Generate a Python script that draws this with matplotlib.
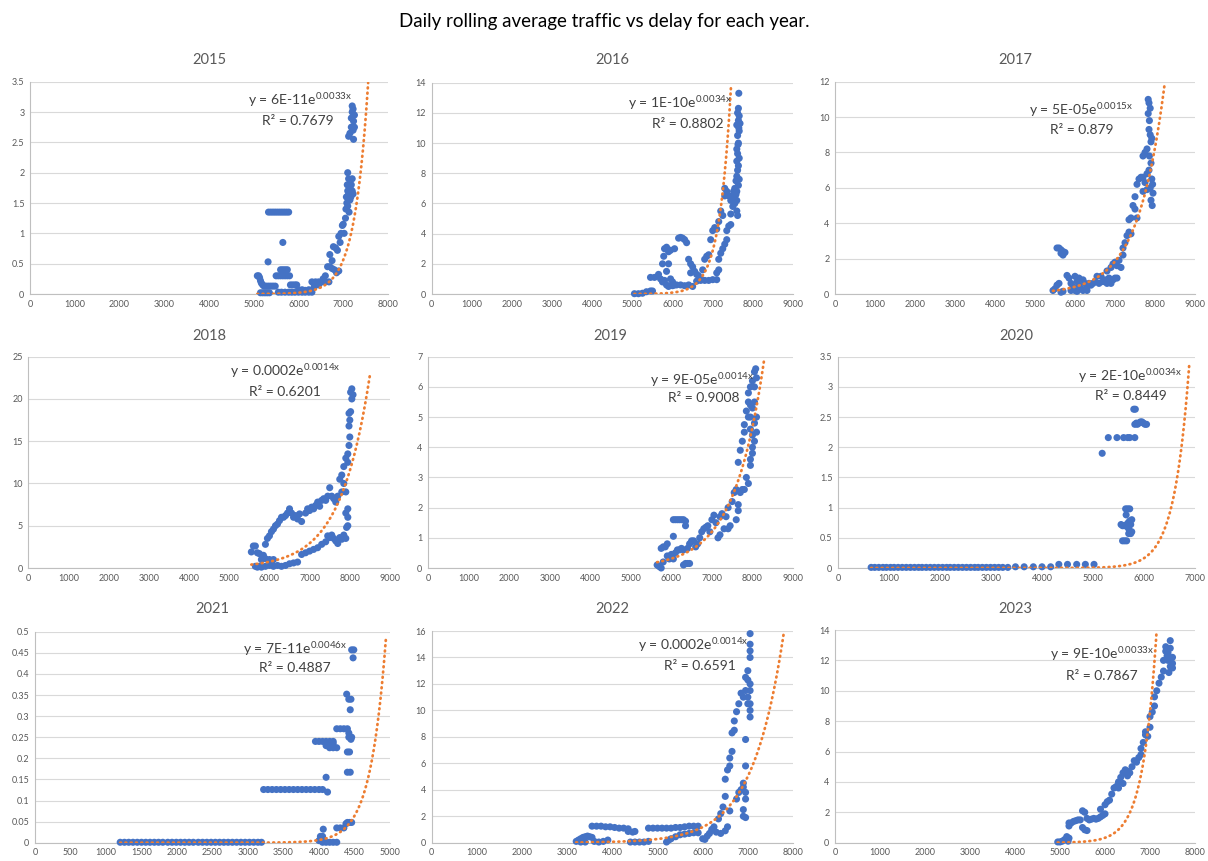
import numpy as np
import matplotlib
matplotlib.use("Agg")
import matplotlib.pyplot as plt
from matplotlib.ticker import FuncFormatter, MultipleLocator

plt.rcParams['font.family'] = ['Lato', 'DejaVu Sans']
plt.rcParams['mathtext.default'] = 'regular'

years = ['2015', '2016', '2017', '2018', '2019', '2020', '2021', '2022', '2023']

# scatter data: x = traffic, y = delay
x15 = [5080, 5110, 5130, 5150, 5170, 5200, 5230, 5150, 5200, 5250, 5300, 5350,
       5280, 5330, 5380, 5430, 5480, 5320, 5330, 5380, 5430, 5480, 5530, 5580,
       5630, 5680, 5730, 5780, 5650, 5600, 5650, 5700, 5750, 5500, 5550, 5600,
       5650, 5700, 5750, 5800, 5550, 5620, 5700, 5780, 5850, 5920, 6000, 6080,
       6150, 6230, 6300, 5820, 5870, 5920, 5960, 6000, 6080, 6150, 6230, 6300,
       6380, 6450, 6530, 6600, 6680, 6350, 6450, 6550, 6600, 6650, 6700, 6750,
       6800, 6700, 6750, 6780, 6830, 6870, 6850, 6900, 6900, 6930, 6950, 6980,
       7000, 7020, 7050, 7060, 7080, 7070, 7090, 7100, 7100, 7120, 7130, 7150,
       7150, 7170, 7180, 7200, 7220, 7200, 7100, 7120, 7120, 7150, 7180, 7180,
       7200, 7220, 7230, 7250, 7220, 7250, 7230, 7200]
y15 = [0.30, 0.30, 0.27, 0.22, 0.18, 0.15, 0.13, 0.02, 0.02, 0.02, 0.02, 0.02,
       0.13, 0.13, 0.13, 0.13, 0.13, 0.53, 1.35, 1.35, 1.35, 1.35, 1.35, 1.35,
       1.35, 1.35, 1.35, 1.35, 0.85, 0.40, 0.40, 0.40, 0.40, 0.30, 0.30, 0.30,
       0.30, 0.30, 0.30, 0.30, 0.03, 0.03, 0.03, 0.03, 0.03, 0.03, 0.03, 0.03,
       0.03, 0.03, 0.03, 0.15, 0.15, 0.15, 0.15, 0.07, 0.07, 0.06, 0.07, 0.20,
       0.20, 0.20, 0.20, 0.20, 0.20, 0.12, 0.15, 0.25, 0.30, 0.45, 0.45, 0.42,
       0.40, 0.65, 0.55, 0.78, 0.76, 0.72, 0.35, 0.38, 0.95, 0.85, 1.00, 1.13,
       1.15, 1.00, 1.25, 1.40, 1.50, 1.60, 1.80, 2.00, 1.70, 1.90, 1.35, 1.55,
       1.75, 1.60, 1.80, 1.70, 1.65, 1.90, 1.45, 1.65, 2.60, 2.65, 2.75, 2.90,
       3.10, 3.05, 2.85, 2.95, 2.70, 2.75, 2.55, 3.00]

x16 = [5050, 5150, 5250, 5350, 5450, 5500, 5450, 5550, 5650, 5700, 5750, 5750,
       5780, 5800, 5850, 5900, 5950, 6050, 5900, 5850, 5950, 5800, 5850, 5900,
       6000, 6050, 6150, 6200, 6250, 6300, 6350, 6400, 6450, 6500, 6550, 6600,
       6650, 6700, 6450, 6000, 6100, 6200, 6300, 6400, 6500, 6600, 6700, 6800,
       6900, 7000, 7100, 6750, 6800, 6850, 6900, 6950, 7000, 7050, 7100, 7150,
       7200, 7250, 7300, 7300, 7350, 7400, 7450, 7100, 7150, 7150, 7200, 7250,
       7300, 7350, 7350, 7400, 7450, 7450, 7500, 7550, 7550, 7550, 7600, 7600,
       7620, 7600, 7580, 7600, 7620, 7600, 7620, 7600, 7640, 7620, 7650, 7600,
       7640, 7620, 7640, 7660, 7680, 7660, 7630, 7660, 7640, 7660, 7640, 7580,
       7520, 7500, 7650]
y16 = [0.02, 0.02, 0.05, 0.15, 0.20, 0.20, 1.10, 1.10, 1.30, 1.00, 0.80, 2.00,
       2.50, 3.00, 3.10, 2.80, 2.90, 3.00, 2.00, 1.50, 1.00, 0.90, 0.60, 0.50,
       0.80, 0.60, 3.70, 3.75, 3.70, 3.60, 3.40, 2.30, 2.00, 1.80, 1.50, 1.30,
       1.20, 1.00, 1.40, 0.55, 0.60, 0.60, 0.55, 0.60, 0.50, 0.85, 0.90, 0.90,
       0.90, 0.95, 0.95, 1.60, 2.30, 2.50, 2.60, 3.60, 4.20, 4.40, 4.30, 4.80,
       5.50, 5.20, 7.00, 6.50, 6.80, 6.50, 6.20, 1.40, 1.60, 2.30, 2.70, 3.00,
       3.30, 3.60, 4.20, 4.50, 4.60, 5.30, 5.80, 6.00, 6.50, 7.00, 6.20, 6.80,
       5.20, 5.50, 7.50, 7.80, 8.20, 8.80, 9.30, 9.60, 10.0, 10.5, 11.0, 11.2,
       11.5, 12.0, 12.3, 11.8, 11.3, 10.8, 9.90, 9.00, 8.50, 7.60, 7.20, 6.60,
       6.80, 6.50, 13.3]

x17 = [5450, 5500, 5550, 5600, 5650, 5700, 5550, 5600, 5650, 5650, 5700, 5700,
       5750, 5800, 5850, 5900, 5950, 6000, 6000, 6050, 6100, 6100, 6150, 6200,
       6250, 6300, 6350, 6400, 5900, 6050, 6200, 6300, 6450, 6500, 6550, 6600,
       6650, 6700, 6750, 6800, 6850, 6900, 6950, 7000, 7050, 6800, 6900, 6950,
       7000, 7050, 7100, 7150, 7200, 7200, 7250, 7300, 7350, 7400, 7350, 7400,
       7450, 7500, 7500, 7550, 7550, 7600, 7650, 7700, 7700, 7750, 7800, 7700,
       7750, 7800, 7800, 7830, 7850, 7830, 7860, 7880, 7850, 7880, 7900, 7920,
       7860, 7900, 7920, 7940, 7950, 7930, 7900, 7880, 7850]
y17 = [0.20, 0.30, 0.50, 0.60, 0.10, 0.15, 2.60, 2.60, 2.50, 2.30, 2.20, 2.40,
       2.35, 1.05, 0.90, 0.60, 0.40, 0.20, 1.00, 0.70, 0.90, 0.50, 0.30, 0.80,
       0.60, 0.40, 0.60, 0.50, 0.20, 0.15, 0.20, 0.20, 0.60, 0.70, 1.00, 0.60,
       1.00, 0.70, 0.80, 0.60, 0.90, 0.60, 0.80, 0.90, 0.90, 1.30, 1.50, 1.70,
       1.80, 1.60, 1.90, 1.50, 2.20, 2.60, 2.90, 3.30, 3.50, 3.40, 4.20, 4.30,
       5.00, 5.50, 4.80, 4.30, 6.20, 6.50, 6.60, 6.60, 7.80, 8.00, 8.20, 5.80,
       6.30, 6.80, 5.90, 11.0, 10.8, 10.2, 9.80, 10.5, 9.30, 9.00, 8.60, 8.80,
       7.80, 7.40, 6.50, 6.20, 5.70, 5.00, 5.30, 6.00, 7.00]

x18 = [5550, 5600, 5650, 5700, 5750, 5650, 5700, 5750, 5800, 5900, 6000, 6100,
       6200, 6300, 6400, 6500, 6600, 6700, 6800, 6900, 7000, 7100, 7200, 7300,
       7400, 7450, 7500, 7550, 7600, 7650, 7700, 7750, 7800, 7850, 7900, 5800,
       5850, 5900, 5950, 6000, 6050, 6100, 6150, 6200, 6250, 6300, 6350, 6400,
       6450, 6500, 6550, 6600, 6650, 6700, 6750, 6800, 6900, 6950, 7000, 7050,
       7100, 7150, 7200, 7250, 7300, 7350, 7400, 7450, 7500, 7550, 7600, 7650,
       7700, 5900, 6000, 6100, 6050, 7750, 7800, 7850, 7900, 7900, 7950, 7950,
       7920, 7950, 7900, 7950, 7980, 8000, 7980, 8000, 7980, 8020, 8050, 8020,
       8050, 8080, 7800, 7850, 7950]
y18 = [1.9, 2.6, 2.6, 1.8, 1.7, 0.2, 0.1, 0.2, 0.1, 0.2, 0.3, 0.2,
       0.3, 0.2, 0.3, 0.5, 0.6, 0.7, 1.6, 1.8, 2.0, 2.2, 2.4, 2.8,
       3.1, 3.8, 3.6, 3.9, 3.5, 3.2, 2.9, 3.6, 3.4, 3.9, 3.5, 1.0,
       1.5, 2.8, 3.5, 3.8, 4.3, 4.6, 5.0, 5.2, 5.6, 6.0, 6.0, 6.2,
       6.5, 7.0, 6.5, 6.0, 6.2, 5.8, 6.4, 5.5, 6.5, 7.0, 6.8, 7.2,
       7.0, 7.4, 7.8, 7.3, 8.0, 8.2, 8.0, 8.5, 9.5, 8.5, 8.2, 7.8,
       8.5, 1.1, 1.0, 1.0, 0.6, 10.5, 11.0, 10.0, 9.0, 6.5, 6.0, 5.0,
       4.8, 12.5, 13.0, 13.5, 14.5, 15.5, 16.8, 17.5, 18.3, 18.5, 20.0, 20.8,
       21.2, 20.5, 9.0, 12.0, 7.0]

x19 = [5650, 5700, 5750, 5800, 5750, 5800, 5850, 5900, 5900, 5950, 6000, 6050,
       6050, 6100, 6150, 6200, 6250, 6050, 6100, 6150, 6200, 6250, 6300, 6350,
       6350, 6300, 6350, 6400, 6450, 6300, 6400, 6450, 6500, 6550, 6600, 6650,
       6700, 6750, 6800, 6850, 6900, 6950, 7000, 7050, 7100, 7150, 7200, 7200,
       7250, 7300, 7350, 7400, 7400, 7450, 7500, 7550, 7600, 7600, 7650, 7650,
       7700, 7750, 7800, 7650, 7700, 7750, 7800, 7800, 7850, 7900, 7850, 7900,
       7900, 7950, 7950, 7950, 8000, 8000, 8000, 8000, 7950, 7950, 8050, 8050,
       8050, 8050, 8100, 8080, 8100, 8100, 8050, 7900, 7950, 8000]
y19 = [0.10, 0.05, 0.00, 0.20, 0.65, 0.70, 0.70, 0.80, 0.40, 0.30, 0.45, 1.05,
       0.30, 0.50, 0.60, 0.60, 0.65, 1.60, 1.60, 1.60, 1.60, 1.60, 1.60, 1.55,
       1.40, 0.10, 0.15, 0.15, 0.15, 0.60, 0.65, 0.80, 0.90, 0.90, 0.70, 0.80,
       1.00, 1.20, 1.30, 1.35, 1.40, 1.20, 1.60, 1.75, 1.50, 1.00, 1.10, 1.70,
       1.80, 1.30, 1.70, 2.00, 1.30, 1.40, 2.20, 2.50, 2.60, 1.60, 1.90, 2.10,
       2.50, 2.60, 2.60, 3.50, 3.90, 4.20, 4.50, 4.75, 3.00, 2.80, 5.20, 5.50,
       5.80, 5.00, 6.00, 4.60, 5.30, 6.20, 4.00, 3.80, 3.60, 3.40, 6.50, 6.00,
       5.50, 4.80, 5.00, 6.60, 6.30, 4.50, 4.20, 5.00, 5.40, 4.40]

x20 = [650, 720, 800, 880, 950, 1030, 1100, 1180, 1260, 1340, 1420, 1500,
       1580, 1650, 1730, 1810, 1890, 1970, 2050, 2130, 2200, 2280, 2360, 2440,
       2520, 2600, 2680, 2750, 2830, 2910, 2990, 3070, 3150, 3230, 3330, 3480,
       3650, 3830, 4000, 4170, 4330, 4500, 4680, 4850, 5020, 5180, 5300, 5470,
       5600, 5680, 5720, 5820, 5800, 5830, 5820, 5870, 5900, 5930, 5960, 5990,
       6020, 6050, 5850, 5580, 5620, 5660, 5550, 5580, 5620, 5660, 5690, 5720,
       5760, 5640, 5680, 5720, 5650, 5700, 5720, 5740, 5760, 5700, 5740, 5680]
y20 = [0.01, 0.01, 0.01, 0.01, 0.01, 0.01, 0.01, 0.01, 0.01, 0.01, 0.01, 0.01,
       0.01, 0.01, 0.01, 0.01, 0.01, 0.01, 0.01, 0.01, 0.01, 0.01, 0.01, 0.01,
       0.01, 0.01, 0.01, 0.01, 0.01, 0.01, 0.01, 0.01, 0.01, 0.01, 0.01, 0.02,
       0.02, 0.02, 0.02, 0.02, 0.06, 0.06, 0.06, 0.06, 0.06, 1.90, 2.16, 2.16,
       2.16, 2.16, 2.16, 2.16, 2.63, 2.63, 2.38, 2.38, 2.40, 2.42, 2.42, 2.40,
       2.38, 2.38, 2.40, 0.45, 0.45, 0.45, 0.72, 0.70, 0.70, 0.72, 0.75, 0.78,
       0.80, 0.98, 0.98, 0.98, 0.88, 0.65, 0.60, 0.57, 0.60, 0.57, 0.72, 0.68]

x21 = [1200, 1260, 1320, 1380, 1440, 1500, 1560, 1620, 1680, 1740, 1800, 1870,
       1930, 1990, 2050, 2110, 2170, 2230, 2300, 2360, 2420, 2480, 2540, 2600,
       2660, 2720, 2780, 2840, 2900, 2960, 3020, 3080, 3140, 3190, 3220, 3280,
       3340, 3400, 3460, 3520, 3580, 3640, 3700, 3760, 3820, 3880, 3940, 4000,
       4050, 4100, 4120, 3950, 4000, 4050, 4100, 4150, 4200, 4100, 4150, 4200,
       4250, 4150, 4200, 4250, 4300, 4350, 4400, 4420, 4400, 4430, 4400, 4440,
       4420, 4450, 4460, 4390, 4420, 4450, 4440, 4460, 4490, 4480, 4020, 4050,
       4060, 4000, 4100, 4150, 4200, 4250, 4050, 4250, 4300, 4350, 4380, 4400,
       4430, 4460]
y21 = [0.001, 0.001, 0.001, 0.001, 0.001, 0.001, 0.001, 0.001, 0.001, 0.001,
       0.001, 0.001, 0.001, 0.001, 0.001, 0.001, 0.001, 0.001, 0.001, 0.001,
       0.001, 0.001, 0.001, 0.001, 0.001, 0.001, 0.001, 0.001, 0.001, 0.001,
       0.001, 0.001, 0.001, 0.001, 0.126, 0.126, 0.126, 0.126, 0.126, 0.126,
       0.126, 0.126, 0.126, 0.126, 0.126, 0.126, 0.126, 0.126, 0.126, 0.155,
       0.120, 0.240, 0.240, 0.240, 0.240, 0.240, 0.240, 0.230, 0.225, 0.225,
       0.225, 0.235, 0.235, 0.270, 0.270, 0.270, 0.270, 0.260, 0.215, 0.215,
       0.167, 0.167, 0.250, 0.245, 0.250, 0.352, 0.340, 0.340, 0.315, 0.457,
       0.457, 0.438, 0.015, 0.015, 0.032, 0.005, 0.001, 0.001, 0.001, 0.001,
       0.001, 0.035, 0.035, 0.035, 0.045, 0.048, 0.048, 0.048]

x22 = [3200, 3250, 3300, 3350, 3400, 3450, 3500, 3550, 3300, 3400, 3600, 3700,
       3800, 3900, 3550, 3650, 3750, 3850, 3950, 4050, 4150, 4250, 4350, 4350,
       4450, 4500, 4400, 4500, 4600, 4700, 4800, 4800, 4900, 5000, 5100, 5200,
       5300, 5400, 5500, 5600, 5700, 5800, 5900, 5200, 5250, 5300, 5400, 5500,
       5600, 5700, 5800, 5900, 6000, 6050, 6100, 6150, 6200, 6250, 6300, 6350,
       6400, 6400, 6450, 6500, 6500, 6550, 6600, 6600, 6650, 6600, 6550, 6500,
       6650, 6700, 6700, 6750, 6800, 6850, 6750, 6800, 6850, 6900, 6900, 6900,
       6900, 6950, 6950, 6950, 6950, 6950, 6900, 6950, 6950, 7000, 7000, 7000,
       7050, 7050, 7050, 7050, 7050, 7050, 7050, 7050, 7050, 7000]
y22 = [0.10, 0.20, 0.30, 0.40, 0.45, 0.50, 0.45, 0.40, 0.05, 0.05, 0.10, 0.05,
       0.10, 0.20, 1.25, 1.25, 1.25, 1.20, 1.20, 1.15, 1.10, 1.10, 1.05, 0.85,
       0.80, 0.85, 0.05, 0.05, 0.05, 0.05, 0.10, 1.10, 1.10, 1.10, 1.10, 1.10,
       1.10, 1.15, 1.15, 1.20, 1.25, 1.25, 1.25, 0.05, 0.20, 0.30, 0.45, 0.60,
       0.65, 0.70, 0.75, 0.75, 0.30, 0.25, 0.50, 0.70, 1.00, 1.20, 0.80, 1.80,
       2.20, 0.70, 2.70, 3.50, 4.80, 5.50, 5.80, 6.40, 6.90, 2.40, 1.20, 0.90,
       8.30, 8.50, 9.20, 9.90, 10.5, 11.3, 3.30, 3.80, 4.00, 4.20, 4.50, 2.50,
       2.00, 1.90, 3.30, 3.80, 5.80, 7.80, 11.0, 11.5, 12.5, 13.0, 11.0, 10.5,
       12.0, 11.5, 10.5, 10.0, 9.50, 14.0, 14.5, 15.0, 15.8, 12.3]

x23 = [4950, 5000, 5050, 5100, 5150, 5200, 5180, 5200, 5200, 5250, 5300, 5350,
       5400, 5450, 5500, 5550, 5500, 5550, 5600, 5600, 5650, 5700, 5750, 5800,
       5850, 5900, 5900, 5950, 6000, 6000, 6050, 6100, 6150, 6200, 6250, 6300,
       6300, 6350, 6400, 6400, 6450, 6500, 6500, 6550, 6600, 6650, 6700, 6750,
       6800, 6800, 6850, 6900, 6900, 6950, 7000, 7000, 7050, 7100, 7100, 7150,
       7200, 7250, 7300, 7300, 7350, 7350, 7400, 7400, 7450, 7450, 7500, 7500,
       7450, 7420, 7500, 7380]
y23 = [0.05, 0.05, 0.10, 0.20, 0.40, 0.30, 0.10, 1.10, 1.30, 1.30, 1.40, 1.45,
       1.50, 1.50, 2.10, 2.00, 1.00, 0.85, 0.80, 1.60, 1.50, 1.55, 1.60, 1.55,
       1.60, 1.70, 2.20, 1.80, 1.90, 2.50, 2.70, 2.80, 3.20, 3.60, 3.70, 4.00,
       3.60, 4.30, 4.60, 3.90, 4.80, 4.70, 4.40, 4.60, 5.00, 5.40, 5.30, 5.60,
       5.80, 6.20, 6.60, 7.10, 7.30, 7.00, 7.60, 8.30, 8.60, 9.00, 9.60, 10.0,
       10.5, 10.9, 11.3, 12.0, 12.6, 12.9, 12.5, 12.0, 13.3, 11.6, 11.8, 12.2,
       12.8, 11.2, 11.5, 12.3]

xs = [x15, x16, x17, x18, x19, x20, x21, x22, x23]
ys = [y15, y16, y17, y18, y19, y20, y21, y22, y23]

# exponential trendline parameters y = a*exp(b*x) and the x span drawn
fit_a = [6e-11, 1e-10, 5e-5, 2e-4, 9e-5, 2e-10, 7e-11, 2e-4, 9e-10]
fit_b = [0.00328, 0.00344, 0.001502, 0.00137, 0.001357, 0.003419, 0.004584, 0.001447, 0.003283]
fit_x0 = [5080, 5050, 5450, 5550, 5650, 650, 1200, 3200, 4950]
fit_x1 = [7560, 7470, 8250, 8500, 8300, 6900, 4950, 7800, 7150]
eq_text = [r'y = 6E-11e$^{0.0033x}$', r'y = 1E-10e$^{0.0034x}$', r'y = 5E-05e$^{0.0015x}$',
           r'y = 0.0002e$^{0.0014x}$', r'y = 9E-05e$^{0.0014x}$', r'y = 2E-10e$^{0.0034x}$',
           r'y = 7E-11e$^{0.0046x}$', r'y = 0.0002e$^{0.0014x}$', r'y = 9E-10e$^{0.0033x}$']
r2_text = ['R² = 0.7679', 'R² = 0.8802', 'R² = 0.879', 'R² = 0.6201', 'R² = 0.9008',
           'R² = 0.8449', 'R² = 0.4887', 'R² = 0.6591', 'R² = 0.7867']

x_max = [8000, 9000, 9000, 9000, 9000, 7000, 5000, 8000, 8000]
x_step = [1000, 1000, 1000, 1000, 1000, 1000, 500, 1000, 1000]
y_max = [3.5, 14, 12, 25, 7, 3.5, 0.5, 16, 14]
y_step = [0.5, 2, 2, 5, 1, 0.5, 0.05, 2, 2]

# layout in pixels (left, right, top, bottom) and text anchor points
W, H = 1208, 861
boxes = [(30, 388, 81.7, 294), (431.7, 793, 82.7, 294), (835, 1195, 81.7, 294),
         (28.3, 390, 356.7, 568), (428, 793, 356.7, 568), (838, 1195, 356.7, 568),
         (35, 390, 631.7, 842.7), (431.7, 793, 631, 842.7), (835, 1195, 630, 842.7)]
title_y = [60, 60, 60, 336, 336, 336, 609, 609, 609]
eq_pos = [(0.754, 0.915), (0.687, 0.904), (0.683, 0.868), (0.71, 0.932), (0.751, 0.89),
          (0.818, 0.909), (0.732, 0.92), (0.723, 0.934), (0.742, 0.887)]
r2_pos = [(0.749, 0.816), (0.709, 0.805), (0.686, 0.774), (0.71, 0.833), (0.756, 0.805),
          (0.821, 0.814), (0.732, 0.828), (0.743, 0.835), (0.742, 0.785)]

blue = '#4472C4'
orange = '#ED7D31'
grey_txt = '#595959'

fig = plt.figure(figsize=(W / 100, H / 100), dpi=100)
fig.text(0.5, 1 - 22 / H, 'Daily rolling average traffic vs delay for each year.',
         ha='center', va='center', fontsize=13.5, color='#000000')

fmt = FuncFormatter(lambda v, p: '{:g}'.format(round(v, 6)))

for i in range(9):
    l, r, t, b = boxes[i]
    ax = fig.add_axes([l / W, 1 - b / H, (r - l) / W, (b - t) / H])
    ax.set_xlim(0, x_max[i])
    ax.set_ylim(0, y_max[i])
    ax.xaxis.set_major_locator(MultipleLocator(x_step[i]))
    ax.yaxis.set_major_locator(MultipleLocator(y_step[i]))
    ax.xaxis.set_major_formatter(fmt)
    ax.yaxis.set_major_formatter(fmt)
    ax.tick_params(length=0, labelsize=6.5, labelcolor=grey_txt, pad=4)
    ax.grid(axis='y', color='#d9d9d9', lw=0.8)
    ax.set_axisbelow(True)
    for s in ['top', 'right']:
        ax.spines[s].set_visible(False)
    for s in ['left', 'bottom']:
        ax.spines[s].set_color('#bfbfbf')
        ax.spines[s].set_linewidth(0.8)

    ax.scatter(xs[i], ys[i], s=26, color=blue, edgecolors='none', zorder=3, clip_on=False)

    xf = np.linspace(fit_x0[i], fit_x1[i], 600)
    yf = fit_a[i] * np.exp(fit_b[i] * xf)
    keep = yf <= y_max[i]
    ax.plot(xf[keep], yf[keep], color=orange, lw=2.0, linestyle=(0, (0.3, 1.6)),
            dash_capstyle='round', solid_capstyle='round', zorder=4)

    ax.text(0.5, (b - title_y[i]) / (b - t), years[i], transform=ax.transAxes,
            ha='center', va='center', fontsize=10.5, color=grey_txt)
    ax.text(eq_pos[i][0], eq_pos[i][1], eq_text[i], transform=ax.transAxes,
            ha='center', va='center', fontsize=10, color='#404040', zorder=5)
    ax.text(r2_pos[i][0], r2_pos[i][1], r2_text[i], transform=ax.transAxes,
            ha='center', va='center', fontsize=10, color='#404040', zorder=5)

fig.savefig('out.png', dpi=100, facecolor='white')
